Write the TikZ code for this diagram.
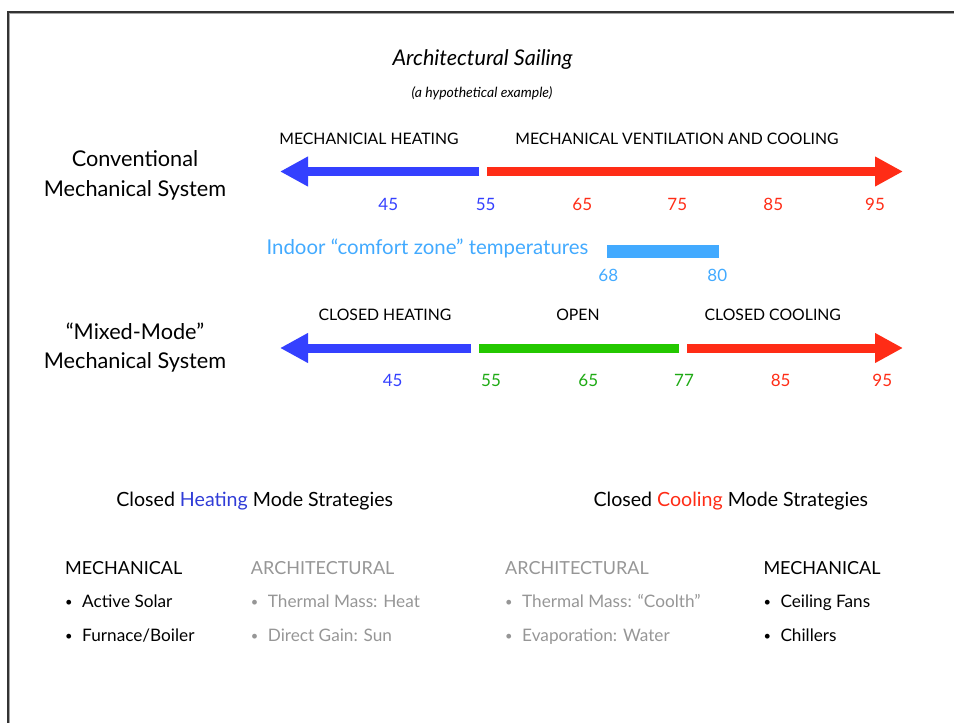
\documentclass[tikz,border=0pt]{standalone}
\usepackage{fontspec}
\setmainfont{Lato}
\usetikzlibrary{arrows.meta,positioning}

\definecolor{heat-blue}{RGB}{52,64,255}
\definecolor{head-blue}{RGB}{48,60,215}
\definecolor{cool-red}{RGB}{255,44,22}
\definecolor{open-green}{RGB}{36,200,0}
\definecolor{num-green}{RGB}{30,170,20}
\definecolor{comfort-blue}{RGB}{66,170,255}
\definecolor{arch-gray}{RGB}{150,150,150}

\tikzset{
	txt/.style={inner sep=0pt, anchor=base, font=\fontsize{#1}{#1}\selectfont},
	band/.style={line width=9pt, draw=#1},
	band-arrow/.style={line width=9pt, draw=#1, -{Triangle[length=28pt,width=28pt]}},
	zone-name/.style={txt=15.8},
	temp/.style={txt=17, text=#1},
	system/.style={txt=21.7},
	strategy/.style={txt=19.6},
	column/.style={txt=18, anchor=base west},
	item/.style={txt=17.2, anchor=base west},
}
\newcommand{\bul}{\makebox[17pt][l]{\raisebox{0.9pt}{\scalebox{0.75}{\textbullet}}}}

\begin{document}
\begin{tikzpicture}[x=1pt, y=-1pt]
\useasboundingbox (0,0) rectangle (954,723);

% frame
\draw[line width=1pt, black!35] (954,13.5) -| (9,723);
\draw[line width=2pt, black!80] (954,12) -| (7.8,723);

% title
\node[txt=21.6, font=\fontsize{21.6}{21.6}\selectfont\itshape] (title) at (482.5,65) {Architectural Sailing};
\node[txt=14, font=\fontsize{14}{14}\selectfont\itshape] (subtitle) at (482,97) {(a hypothetical example)};

% conventional system
\node[system] (conv1) at (135,166.7) {Conventional};
\node[system] (conv2) at (135,196.7) {Mechanical System};

\node[zone-name] (c-heat) at (369,144.3) {MECHANICIAL HEATING};
\node[zone-name] (c-cool) at (677,144.3) {MECHANICAL VENTILATION AND COOLING};

\coordinate (c-heat-a) at (479,171.5);
\coordinate (c-heat-b) at (280,171.5);
\coordinate (c-cool-a) at (487,171.5);
\coordinate (c-cool-b) at (903,171.5);
\draw[band-arrow=heat-blue] (c-heat-a) -- (c-heat-b);
\draw[band-arrow=cool-red] (c-cool-a) -- (c-cool-b);

\node[temp=heat-blue] (c45) at (388.3,210) {45};
\node[temp=heat-blue] (c55) at (485.7,210) {55};
\node[temp=cool-red] (c65) at (582.3,210) {65};
\node[temp=cool-red] (c75) at (677.3,210) {75};
\node[temp=cool-red] (c85) at (773.3,210) {85};
\node[temp=cool-red] (c95) at (875,210) {95};

% comfort zone
\node[txt=20.4, text=comfort-blue] (comfort) at (427.5,254.3) {Indoor “comfort zone” temperatures};
\coordinate (cz-a) at (607,251.5);
\coordinate (cz-b) at (719,251.5);
\draw[line width=13pt, comfort-blue] (cz-a) -- (cz-b);
\node[temp=comfort-blue] (cz68) at (608.3,281.7) {68};
\node[temp=comfort-blue] (cz80) at (717.3,281.7) {80};

% mixed-mode system
\node[system] (mix1) at (135,339.3) {“Mixed-Mode”};
\node[system] (mix2) at (135,368.3) {Mechanical System};

\node[zone-name] (m-heat) at (385,320) {CLOSED HEATING};
\node[zone-name] (m-open) at (578,320) {OPEN};
\node[zone-name] (m-cool) at (772.8,320) {CLOSED COOLING};

\coordinate (m-heat-a) at (471,348);
\coordinate (m-heat-b) at (280,348);
\coordinate (m-open-a) at (479,348);
\coordinate (m-open-b) at (679,348);
\coordinate (m-cool-a) at (687,348);
\coordinate (m-cool-b) at (903,348);
\draw[band-arrow=heat-blue] (m-heat-a) -- (m-heat-b);
\draw[band=open-green] (m-open-a) -- (m-open-b);
\draw[band-arrow=cool-red] (m-cool-a) -- (m-cool-b);

\node[temp=heat-blue] (m45) at (392.7,386) {45};
\node[temp=num-green] (m55) at (491,386) {55};
\node[temp=num-green] (m65) at (588.3,386) {65};
\node[temp=num-green] (m77) at (684,386) {77};
\node[temp=cool-red] (m85) at (780.7,386) {85};
\node[temp=cool-red] (m95) at (882.3,386) {95};

% strategies
\node[strategy] (s-heat) at (254.7,506) {Closed \textcolor{head-blue}{Heating} Mode Strategies};
\node[strategy] (s-cool) at (730.8,506) {Closed \textcolor{cool-red}{Cooling} Mode Strategies};

\node[column] (h-mech) at (65,574.3) {MECHANICAL};
\node[item, below=33pt of h-mech.base west, anchor=base west] (h-mech1) {\bul Active Solar};
\node[item, below=34.4pt of h-mech1.base west, anchor=base west] (h-mech2) {\bul Furnace/Boiler};

\begin{scope}[arch-gray]
\node[column, text=arch-gray] (h-arch) at (250.7,574.3) {ARCHITECTURAL};
\node[item, text=arch-gray, below=33pt of h-arch.base west, anchor=base west] (h-arch1) {\bul Thermal Mass: Heat};
\node[item, text=arch-gray, below=34.4pt of h-arch1.base west, anchor=base west] (h-arch2) {\bul Direct Gain: Sun};

\node[column, text=arch-gray] (c-arch) at (505,574.3) {ARCHITECTURAL};
\node[item, text=arch-gray, below=33pt of c-arch.base west, anchor=base west] (c-arch1) {\bul Thermal Mass: “Coolth”};
\node[item, text=arch-gray, below=34.4pt of c-arch1.base west, anchor=base west] (c-arch2) {\bul Evaporation: Water};
\end{scope}

\node[column] (c-mech) at (763.3,574.3) {MECHANICAL};
\node[item, below=33pt of c-mech.base west, anchor=base west] (c-mech1) {\bul Ceiling Fans};
\node[item, below=34.4pt of c-mech1.base west, anchor=base west] (c-mech2) {\bul Chillers};

\end{tikzpicture}
\end{document}
